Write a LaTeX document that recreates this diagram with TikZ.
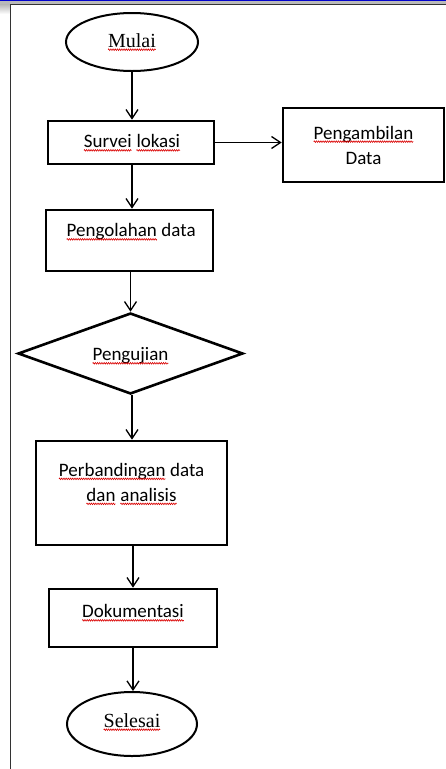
\documentclass[tikz,border=0pt]{standalone}
\usepackage{fontspec}
\setmainfont{Carlito}
\newfontfamily\timesfont{Liberation Serif}
\usetikzlibrary{shapes.geometric,arrows.meta,decorations.pathmorphing}
\newcommand\sq[1]{\tikz[baseline=(w.base),x=1pt,y=1pt]{\node[inner sep=0pt,outer sep=0pt] (w) {#1};
  \draw[red!85!black, line width=0.6pt, decorate, decoration={zigzag, amplitude=0.8pt, segment length=2.2pt}] ([yshift=-2.6pt]w.base west) -- ([yshift=-2.6pt]w.base east);}}
\tikzset{
  box/.style={draw=black, line width=2.6pt, rectangle, inner sep=0pt},
  term/.style={draw=black, line width=2pt, ellipse, inner sep=0pt},
  dia/.style={draw=black, line width=2.6pt, diamond, inner sep=0pt},
  txt/.style={font=\fontsize{19}{25}\selectfont, align=center, inner sep=0pt},
  ttxt/.style={font=\timesfont\fontsize{20}{24}\selectfont, inner sep=0pt},
  flow/.style={draw=black, line width=1.3pt, -{Straight Barb[length=9pt,width=12pt,line width=1.3pt]}}
}
\begin{document}
\begin{tikzpicture}[x=1pt,y=-1pt]
\useasboundingbox (0,0) rectangle (446,769);
% window frame
\fill[gray!55] (0,0) rectangle (446,4.5);
\shade[top color=gray!55, bottom color=white] (0,4.5) rectangle (10,14);
\fill[blue!80!black] (0,0) rectangle (446,1.4);
\draw[gray!40!black, line width=1.3pt] (10.7,769) -- (10.7,4.6) -- (446,4.6);
% nodes
\node[term, minimum width=132pt, minimum height=58pt] (mulai) at (132,42) {};
\node[ttxt] (mulait) at (132,42) {\sq{Mulai}};
\node[box, minimum width=166pt, minimum height=43pt] (survei) at (131,142.5) {};
\node[txt] (surveit) at (132,143) {\sq{Survei} \sq{lokasi}};
\node[box, minimum width=161pt, minimum height=74pt] (ambil) at (363.5,145) {};
\node[txt] (ambilt) at (363.5,145) {\sq{Pengambilan}\\Data};
\node[box, minimum width=167pt, minimum height=61pt] (olah) at (129.5,240.5) {};
\node[txt] (olaht) at (131,232) {\sq{Pengolahan} data};
\node[dia, minimum width=225pt, minimum height=81pt, aspect=2.78] (uji) at (130.5,353.5) {};
\node[txt] (ujit) at (130.5,356) {\sq{Pengujian}};
\node[box, minimum width=191pt, minimum height=104pt] (banding) at (131.5,493) {};
\node[txt] (bandingt) at (131.5,484) {\sq{Perbandingan} data\\\sq{dan} \sq{analisis}};
\node[box, minimum width=168pt, minimum height=58pt] (dok) at (133,618) {};
\node[txt] (dokt) at (133,613) {\sq{Dokumentasi}};
\node[term, minimum width=130pt, minimum height=64pt] (selesai) at (132,724) {};
\node[ttxt] (selesait) at (132,722) {\sq{Selesai}};
% connectors
\draw[flow] (mulai.south) -- (mulai.south |- survei.north);
\draw[flow] (survei.east) -- (ambil.west |- survei.east);
\draw[flow] ([xshift=1pt]survei.south) -- ([xshift=1pt]survei.south |- olah.north);
\draw[flow] (uji.north |- olah.south) -- (uji.north);
\draw[flow] ([xshift=1.5pt]uji.south) -- ([xshift=1.5pt]uji.south |- banding.north);
\draw[flow] ([xshift=1.5pt]banding.south) -- ([xshift=1.5pt]banding.south |- dok.north);
\draw[flow] (dok.south) -- (dok.south |- selesai.north);
\end{tikzpicture}
\end{document}
